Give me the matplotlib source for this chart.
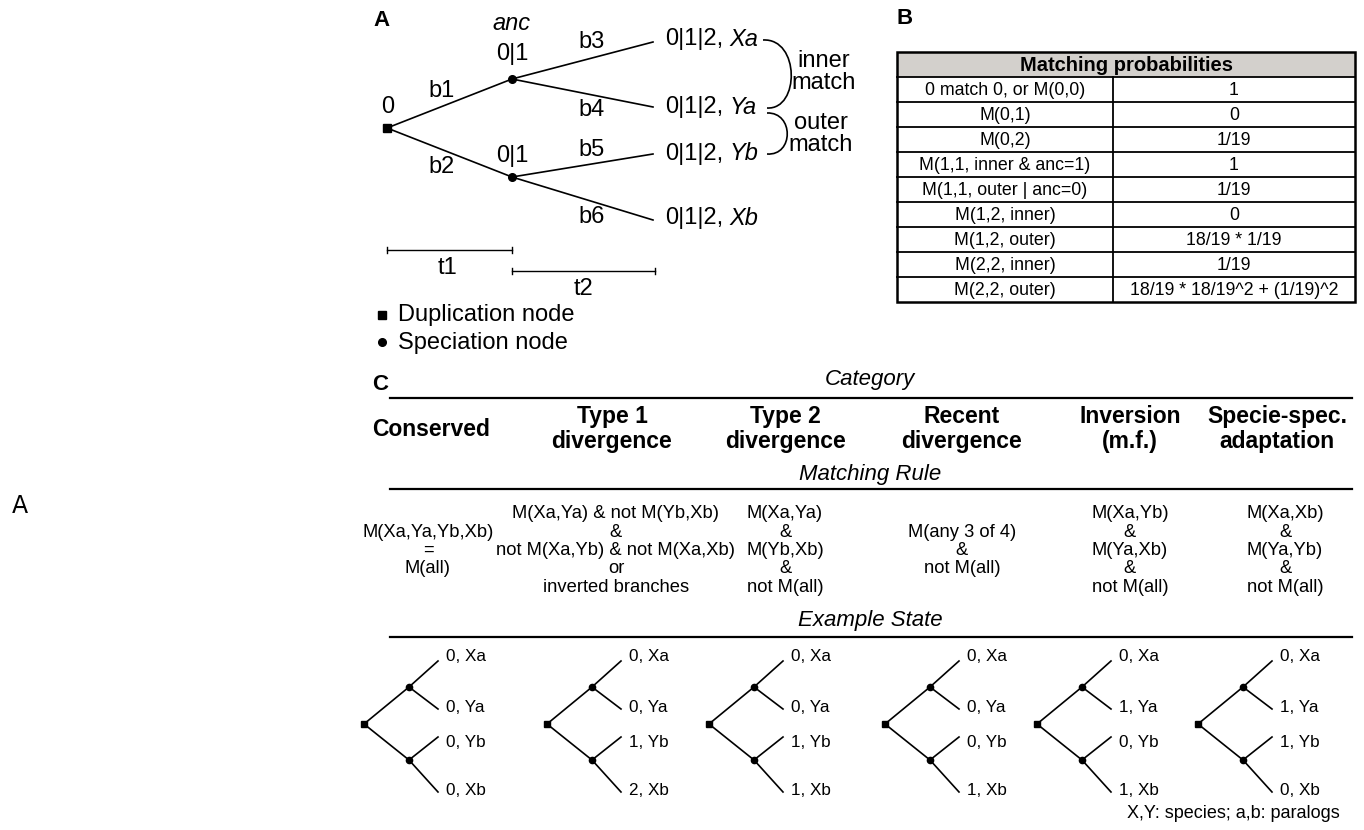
import matplotlib
matplotlib.use("Agg")
import matplotlib.pyplot as plt
from matplotlib.patches import Rectangle, PathPatch
from matplotlib.path import Path

plt.rcParams['font.family'] = ['Liberation Sans', 'DejaVu Sans']

# ---------------- data ----------------
tip_names = ["Xa", "Ya", "Yb", "Xb"]
branch_labels = ["b1", "b2", "b3", "b4", "b5", "b6"]
tip_state_text = "0|1|2"
node_state_text = "0|1"

table_header = "Matching probabilities"
table_events = ["0 match 0, or M(0,0)", "M(0,1)", "M(0,2)", "M(1,1, inner & anc=1)",
                "M(1,1, outer | anc=0)", "M(1,2, inner)", "M(1,2, outer)",
                "M(2,2, inner)", "M(2,2, outer)"]
table_probs = ["1", "0", "1/19", "1", "1/19", "0", "18/19 * 1/19", "1/19",
               "18/19 * 18/19^2 + (1/19)^2"]

categories = ["Conserved", "Type 1\ndivergence", "Type 2\ndivergence",
              "Recent\ndivergence", "Inversion\n(m.f.)", "Specie-spec.\nadaptation"]
rules = [
    ["", "M(Xa,Ya,Yb,Xb)", "=", "M(all)", ""],
    ["M(Xa,Ya) & not M(Yb,Xb)", "&", "not M(Xa,Yb) & not M(Xa,Xb)", "or", "inverted branches"],
    ["M(Xa,Ya)", "&", "M(Yb,Xb)", "&", "not M(all)"],
    ["", "M(any 3 of 4)", "&", "not M(all)", ""],
    ["M(Xa,Yb)", "&", "M(Ya,Xb)", "&", "not M(all)"],
    ["M(Xa,Xb)", "&", "M(Ya,Yb)", "&", "not M(all)"],
]
example_states = [
    [0, 0, 0, 0],
    [0, 0, 1, 2],
    [0, 0, 1, 1],
    [0, 0, 0, 1],
    [0, 1, 0, 1],
    [0, 1, 1, 0],
]

# ---------------- figure ----------------
fig = plt.figure(figsize=(13.64, 8.30), dpi=100)
ax = fig.add_axes([0, 0, 1, 1])
ax.set_xlim(0, 1364)
ax.set_ylim(830, 0)
ax.axis('off')
renderer = fig.canvas.get_renderer()

K = 'black'
LW = 1.2

# stray label at left
ax.text(20, 506, "A", fontsize=17, ha='center', va='center', family=['DejaVu Sans'])

# ---------------- Panel A ----------------
ax.text(381, 20, "A", fontsize=16, fontweight='bold', ha='center', va='center')
root = (387, 128)
nodes = [(512, 79), (512, 177)]
tips = [(653, 42), (653, 107), (653, 154), (653, 220)]
for n in nodes:
    ax.plot([root[0], n[0]], [root[1], n[1]], color=K, lw=LW)
for i, t in enumerate(tips):
    n = nodes[i // 2]
    ax.plot([n[0], t[0]], [n[1], t[1]], color=K, lw=LW)
ax.plot(*root, marker='s', ms=6, color=K)
for n in nodes:
    ax.plot(*n, marker='o', ms=5.5, color=K)

FA = 17
ax.text(root[0] + 1, 107, "0", fontsize=FA, ha='center', va='center')
ax.text(512, 24, "anc", fontsize=FA, ha='center', va='center', style='italic')
ax.text(512, 54, node_state_text, fontsize=FA, ha='center', va='center')
ax.text(512, 156, node_state_text, fontsize=FA, ha='center', va='center')
blab_pos = [(442, 91), (442, 167), (592, 42), (592, 110), (592, 150), (592, 217)]
for lab, (bx, by) in zip(branch_labels, blab_pos):
    ax.text(bx, by, lab, fontsize=FA, ha='center', va='center')
tip_label_y = [39, 107, 154, 218]
space_px = 0.278 * FA * 100 / 72
for name, ty in zip(tip_names, tip_label_y):
    t = ax.text(665, ty, tip_state_text + ",", fontsize=FA, ha='left', va='center')
    bb = t.get_window_extent(renderer)
    ax.text(bb.x1 + space_px, ty, name, fontsize=FA, ha='left', va='center', style='italic')

# brackets
def bracket(p0, p1, p2, p3):
    path = Path([p0, p1, p2, p3], [Path.MOVETO, Path.CURVE4, Path.CURVE4, Path.CURVE4])
    ax.add_patch(PathPatch(path, fc='none', ec=K, lw=LW))

bracket((763, 40), (800, 38), (800, 110), (767, 108))
bracket((767, 113), (794, 112), (794, 156), (767, 154))
ax.text(824, 72, "inner\nmatch", fontsize=FA, ha='center', va='center', linespacing=0.95)
ax.text(821, 134, "outer\nmatch", fontsize=FA, ha='center', va='center', linespacing=0.95)

# time scale bars
def scalebar(x0, x1, y):
    ax.plot([x0, x1], [y, y], color=K, lw=1.0)
    ax.plot([x0, x0], [y - 3, y + 3], color=K, lw=1.0)
    ax.plot([x1, x1], [y - 3, y + 3], color=K, lw=1.0)

scalebar(387, 512, 250)
scalebar(512, 655, 271)
ax.text(447, 268, "t1", fontsize=FA, ha='center', va='center')
ax.text(583, 289, "t2", fontsize=FA, ha='center', va='center')

# legend
ax.plot(382, 315, marker='s', ms=6, color=K)
ax.text(398, 315, "Duplication node", fontsize=FA, ha='left', va='center')
ax.plot(382, 342, marker='o', ms=5.5, color=K)
ax.text(398, 343, "Speciation node", fontsize=FA, ha='left', va='center')

# ---------------- Panel B ----------------
ax.text(905, 18, "B", fontsize=16, fontweight='bold', ha='center', va='center')
tx0, tx1, txm = 897, 1355, 1113
ty0, th = 52, 25
ax.add_patch(Rectangle((tx0, ty0), tx1 - tx0, th, facecolor='#d3d0cc', edgecolor='none'))
ax.text((tx0 + tx1) / 2, ty0 + th / 2 + 1, table_header, fontsize=14.5, fontweight='bold',
        ha='center', va='center')
nrows = len(table_events)
ybot = ty0 + th * (nrows + 1)
for i, (ev, pr) in enumerate(zip(table_events, table_probs)):
    yc = ty0 + th * (i + 1) + th / 2 + 1
    ax.text((tx0 + txm) / 2, yc, ev, fontsize=12.8, ha='center', va='center')
    ax.text((txm + tx1) / 2, yc, pr, fontsize=12.8, ha='center', va='center')
for i in range(1, nrows + 1):
    y = ty0 + th * i
    ax.plot([tx0, tx1], [y, y], color=K, lw=1.3)
ax.plot([txm, txm], [ty0 + th, ybot], color=K, lw=1.3)
ax.add_patch(Rectangle((tx0, ty0), tx1 - tx0, ybot - ty0, facecolor='none',
                       edgecolor=K, lw=1.8))

# ---------------- Panel C ----------------
ax.text(380, 384, "C", fontsize=16, fontweight='bold', ha='center', va='center')
LX0, LX1 = 390, 1352
for y in (398, 489, 637):
    ax.plot([LX0, LX1], [y, y], color=K, lw=1.6)
ax.text(870, 379, "Category", fontsize=16, style='italic', ha='center', va='center')
ax.text(870, 474, "Matching Rule", fontsize=16, style='italic', ha='center', va='center')
ax.text(870, 620, "Example State", fontsize=16, style='italic', ha='center', va='center')

head_x = [431, 612, 785, 962, 1130, 1277]
for cx, cat in zip(head_x, categories):
    ax.text(cx, 429, cat, fontsize=16.5, fontweight='bold', ha='center', va='center',
            linespacing=1.12)

rule_x = [428, 616, 785, 962, 1130, 1285]
rule_y = [513, 532, 550, 568, 587]
for cx, lines in zip(rule_x, rules):
    for ry, s in zip(rule_y, lines):
        if s:
            ax.text(cx, ry, s, fontsize=13.2, ha='center', va='center')

tree_roots = [364, 547, 709, 885, 1037, 1198]
for r, states in zip(tree_roots, example_states):
    ry = 724
    nup = (r + 45, 687)
    nlo = (r + 45, 760)
    tps = [(r + 74, 661), (r + 74, 709), (r + 74, 737), (r + 74, 792)]
    ax.plot([r, nup[0]], [ry, nup[1]], color=K, lw=LW)
    ax.plot([r, nlo[0]], [ry, nlo[1]], color=K, lw=LW)
    for i, t in enumerate(tps):
        n = nup if i < 2 else nlo
        ax.plot([n[0], t[0]], [n[1], t[1]], color=K, lw=LW)
    ax.plot(r, ry, marker='s', ms=5, color=K)
    ax.plot(*nup, marker='o', ms=4.5, color=K)
    ax.plot(*nlo, marker='o', ms=4.5, color=K)
    lab_y = [656, 707, 742, 790]
    for s, name, ly in zip(states, tip_names, lab_y):
        ax.text(r + 82, ly, f"{s}, {name}", fontsize=12.3, ha='left', va='center')

ax.text(1340, 813, "X,Y: species; a,b: paralogs", fontsize=13, ha='right', va='center')

fig.savefig("out.png", dpi=100)
